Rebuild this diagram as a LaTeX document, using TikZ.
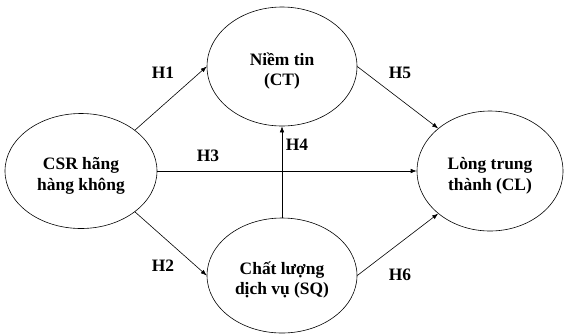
\documentclass[tikz,border=0pt]{standalone}
\usepackage{fontspec}
\setmainfont{Liberation Serif}
\usetikzlibrary{shapes.geometric, arrows.meta}

% taller first line, so the text sits a little low in the ellipse
\newcommand{\lowtext}{\rule{0pt}{22bp}}

\begin{document}
\begin{tikzpicture}[x=1bp, y=-1bp, line cap=round, line join=round,
    >={Latex[length=6bp, width=4.5bp]},
    construct/.style={ellipse, draw, line width=0.6bp, minimum width=150bp,
      minimum height=117bp, inner sep=0pt, align=center,
      font=\bfseries\fontsize{17.5}{20.5}\selectfont},
    hyp/.style={font=\bfseries\fontsize{17.5}{21}\selectfont},
    link/.style={->, line width=0.6bp}]
        \useasboundingbox (0,0) rectangle (564,335);

        % constructs
        \node[construct, minimum width=152bp, minimum height=115bp] (csr) at (81,171) {\lowtext CSR hãng\\hàng không};
        \node[construct, minimum height=119bp] (ct) at (282,66.5) {\lowtext Niềm tin\\(CT)};
        \node[construct, minimum height=115bp] (sq) at (282,275.5) {\lowtext Chất lượng\\dịch vụ (SQ)};
        \node[construct, minimum width=146bp, minimum height=120bp] (cl) at (490,171) {\lowtext Lòng trung\\thành (CL)};

        % hypotheses
        \draw[link] (csr.north east) -- (ct.west);
        \draw[link] (csr.south east) -- (sq.west);
        \draw[link] (csr.east) -- (cl.west);
        \draw[link] (sq.north) -- (ct.south);
        \draw[link] (ct.east) -- (cl.north west);
        \draw[link] (sq.east) -- (cl.south west);

        % labels
        \node[hyp] (h1) at (163,73) {H1};
        \node[hyp] (h2) at (163,266) {H2};
        \node[hyp] (h3) at (208,156) {H3};
        \node[hyp] (h4) at (297,145) {H4};
        \node[hyp] (h5) at (400,73) {H5};
        \node[hyp] (h6) at (400,275) {H6};
\end{tikzpicture}
\end{document}
